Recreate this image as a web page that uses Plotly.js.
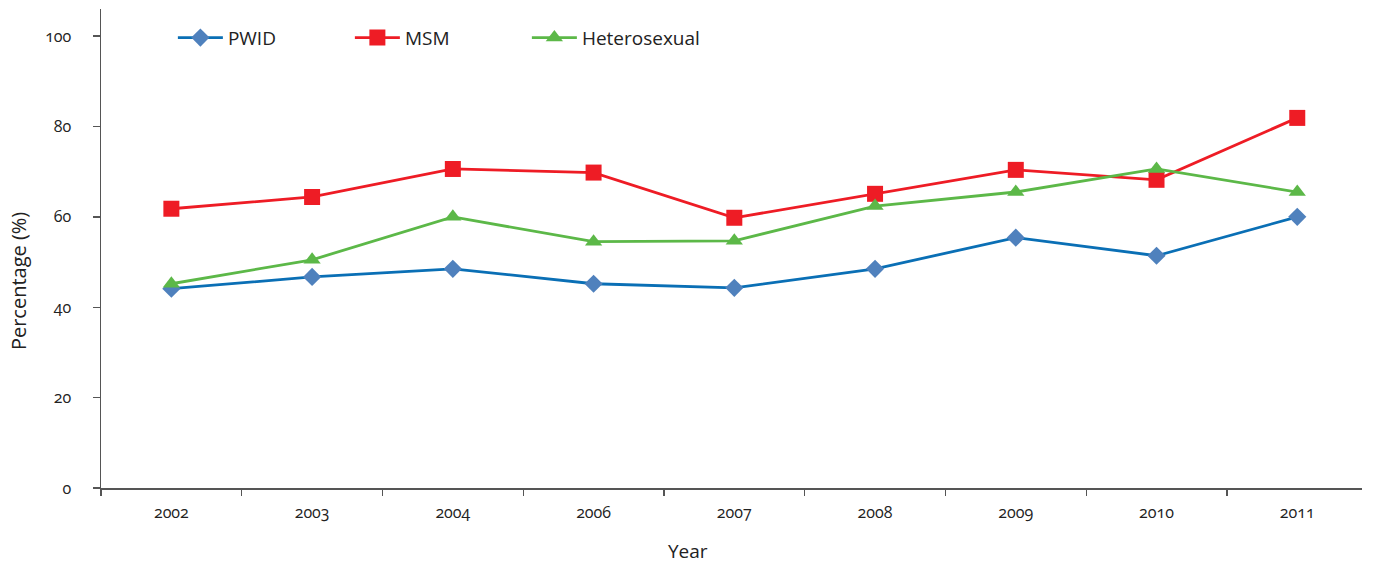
<!DOCTYPE html>
<html>
<head>
<meta charset="utf-8">
<script src="https://cdn.plot.ly/plotly-3.0.1.min.js"></script>
<style>
html,body{margin:0;padding:0;background:#fff;}
#chart{width:1373px;height:565px;}
#chart .xtick text, #chart .ytick text {font-variant-numeric: oldstyle-nums !important; font-feature-settings: "onum" 1 !important;}
</style>
</head>
<body>
<div id="chart"></div>
<script>
const years = ['2002','2003','2004','2006','2007','2008','2009','2010','2011'];
const pwid = [44.1, 46.7, 48.5, 45.2, 44.3, 48.5, 55.4, 51.4, 60.0];
const msm = [61.8, 64.4, 70.6, 69.8, 59.8, 65.1, 70.4, 68.2, 81.9];
const hetero = [45.2, 50.5, 60.0, 54.5, 54.7, 62.4, 65.5, 70.6, 65.5];
const yTicks = [0, 20, 40, 60, 80, 100];

const traces = [
  {x: years, y: pwid, name: 'PWID', type: 'scatter', mode: 'lines+markers',
   line: {color: '#0a6fb5', width: 2.8},
   marker: {symbol: 'diamond', size: 14, color: '#4f81bd'}},
  {x: years, y: msm, name: 'MSM', type: 'scatter', mode: 'lines+markers',
   line: {color: '#ee1c25', width: 2.8},
   marker: {symbol: 'square', size: 16, color: '#ee1c25'}},
  {x: years, y: hetero, name: 'Heterosexual', type: 'scatter', mode: 'lines+markers',
   line: {color: '#5cb848', width: 2.8},
   marker: {symbol: 'triangle-up', size: 15, color: '#5cb848'}}
];

const titleFont = {family: '"Open Sans", sans-serif', color: '#222'};

const layout = {
  width: 1373, height: 565,
  margin: {l: 101, r: 11, t: 9, b: 77},
  paper_bgcolor: '#fff', plot_bgcolor: '#fff',
  font: {family: '"Open Sans", sans-serif', color: '#222'},
  showlegend: true,
  legend: {orientation: 'h', x: 0.057, y: 0.94, xanchor: 'left', yanchor: 'middle',
           itemwidth: 45, entrywidth: 117, entrywidthmode: 'pixels',
           font: {size: 19, family: '"Open Sans", sans-serif', color: '#222'},
           bgcolor: 'rgba(0,0,0,0)'},
  xaxis: {type: 'category', categoryorder: 'array', categoryarray: years, range: [-0.5, 8.46],
          tickson: 'boundaries', ticks: 'outside', ticklen: 6, tickcolor: '#555', tickwidth: 1.3,
          showline: true, linecolor: '#555', linewidth: 1.5, showgrid: false, zeroline: false,
          ticklabelstandoff: 9,
          tickfont: {size: 16, family: '"Open Sans", sans-serif', color: '#222'}},
  yaxis: {range: [0, 106], tickvals: yTicks, ticktext: yTicks.map(String),
          ticks: 'outside', ticklen: 7, tickcolor: '#555', tickwidth: 1.3,
          showline: true, linecolor: '#555', linewidth: 1.5, showgrid: false, zeroline: false,
          ticklabelstandoff: 18,
          tickfont: {size: 16, family: '"Open Sans", sans-serif', color: '#222'}},
  annotations: [
    {text: 'Year', xref: 'paper', yref: 'paper', x: 0.4655, y: -0.131, xanchor: 'center', yanchor: 'middle',
     showarrow: false, font: Object.assign({size: 19}, titleFont)},
    {text: 'Percentage (%)', xref: 'paper', yref: 'paper', x: -0.0658, y: 0.432, xanchor: 'center', yanchor: 'middle',
     textangle: -90, showarrow: false, font: Object.assign({size: 20}, titleFont)}
  ]
};

Plotly.newPlot('chart', traces, layout, {displayModeBar: false, staticPlot: true});
</script>
</body>
</html>
